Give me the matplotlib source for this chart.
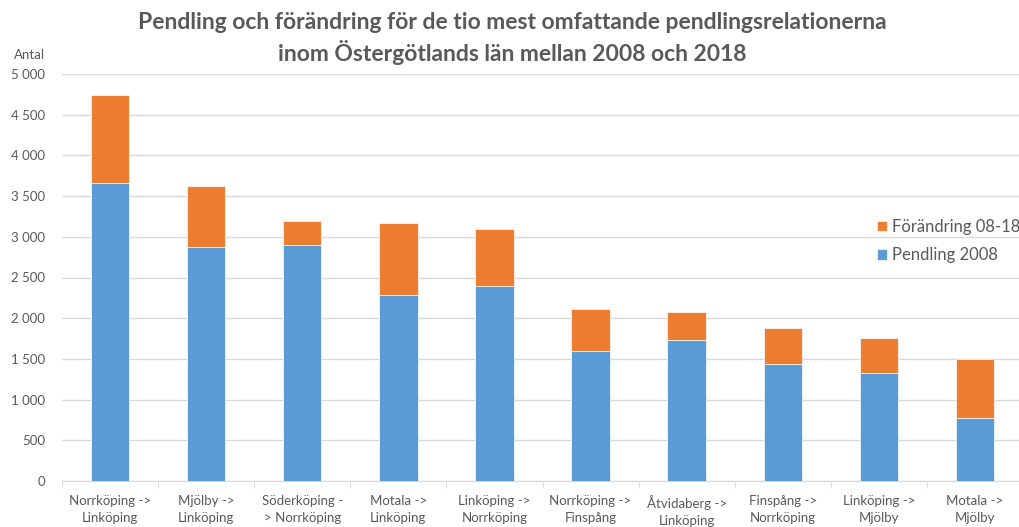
import matplotlib.pyplot as plt
import numpy as np

plt.rcParams['font.family'] = ['Lato', 'DejaVu Sans']

kategorier = ["Norrköping ->\nLinköping", "Mjölby ->\nLinköping", "Söderköping -\n> Norrköping",
              "Motala ->\nLinköping", "Linköping ->\nNorrköping", "Norrköping ->\nFinspång",
              "Åtvidaberg ->\nLinköping", "Finspång ->\nNorrköping", "Linköping ->\nMjölby",
              "Motala ->\nMjölby"]
pendling_2008 = [3660, 2870, 2895, 2285, 2395, 1600, 1735, 1440, 1330, 775]
forandring = [1085, 750, 300, 885, 705, 515, 340, 440, 425, 720]

gray = "#595959"
blue = "#5B9BD5"
orange = "#ED7D31"

fig = plt.figure(figsize=(10.19, 5.27), dpi=100)
ax = fig.add_axes([62/1019, 46/527, 961/1019, 407/527])

x = np.arange(len(kategorier))
ax.bar(x, pendling_2008, width=0.4, color=blue, label="Pendling 2008", edgecolor="white", linewidth=0.5, zorder=3)
ax.bar(x, forandring, width=0.4, bottom=pendling_2008, color=orange, label="Förändring 08-18",
       edgecolor="white", linewidth=0.5, zorder=3)

ax.set_xlim(-0.5, len(kategorier) - 0.5)
ax.set_ylim(0, 5000)
ticks = np.arange(0, 5001, 500)
ax.set_yticks(ticks)
ax.set_yticklabels([f"{t:,}".replace(",", " ") for t in ticks], color=gray, fontsize=9.5)
ax.yaxis.grid(True, color="#d9d9d9", linewidth=1, zorder=0)
ax.tick_params(axis="y", length=0, pad=12)

ax.set_xticks(x)
ax.set_xticklabels(kategorier, color=gray, fontsize=9.5, linespacing=1.5)
ax.set_xticks(np.arange(-0.5, len(kategorier)), minor=True)
ax.tick_params(axis="x", which="major", length=0, pad=10)
ax.tick_params(axis="x", which="minor", length=5, color="#d9d9d9")

for s in ["top", "right", "left"]:
    ax.spines[s].set_visible(False)
ax.spines["bottom"].set_color("#d9d9d9")

fig.text(14/1019, 1 - 55/527, "Antal", color=gray, fontsize=9.5, va="center")
fig.suptitle("Pendling och förändring för de tio mest omfattande pendlingsrelationerna\n"
             "inom Östergötlands län mellan 2008 och 2018",
             color=gray, fontsize=16.5, fontweight="bold", x=0.503, y=0.978, linespacing=1.35)

h, l = ax.get_legend_handles_labels()
ax.legend(h[::-1], l[::-1], loc="upper left", bbox_to_anchor=(862/1019, 1 - 204/527), bbox_transform=fig.transFigure,
          frameon=False, fontsize=12, labelcolor=gray, handlelength=0.6, handleheight=0.6,
          handletextpad=0.3, labelspacing=0.75)

fig.savefig("out.png", dpi=100)
